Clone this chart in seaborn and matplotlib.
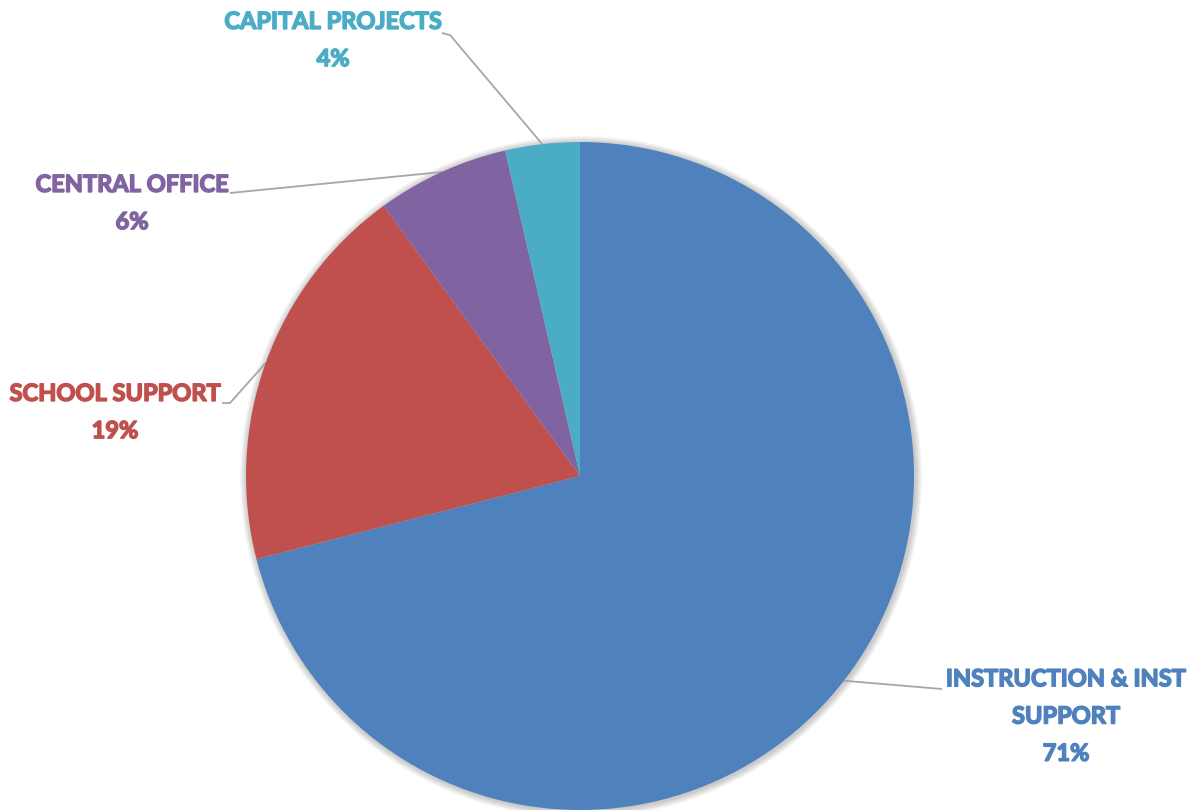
import numpy as np
import matplotlib
matplotlib.use('Agg')
import matplotlib.pyplot as plt
import matplotlib.patheffects as pe
import seaborn as sns

# data (clockwise from 12 o'clock)
categories = ['INSTRUCTION & INST\nSUPPORT', 'SCHOOL SUPPORT', 'CENTRAL OFFICE', 'CAPITAL PROJECTS']
shares = [71.0, 19.0, 6.4, 3.6]
colors = ['#4F81BD', '#C0504D', '#8064A2', '#4BACC6']

sns.set_theme(style='white')
plt.rcParams['font.family'] = ['Lato', 'DejaVu Sans']

W, H = 1190, 810
fig = plt.figure(figsize=(W / 100, H / 100), dpi=100)
ax = fig.add_axes([0, 0, 1, 1])

cx, cy, r = 580, H - 476, 334

# soft shadow around the pie
for k in range(1, 8):
    ax.add_patch(plt.Circle((cx + 1, cy - 1), r + k, color='black', alpha=0.03, lw=0, zorder=0))

wedges, _ = ax.pie(shares, colors=colors, startangle=90, counterclock=False,
                   center=(cx, cy), radius=r, wedgeprops=dict(linewidth=0))
for w in wedges:
    w.set_zorder(2)

# label anchors (x, y from top) and leader elbows
label_pos = [(1066, 716), (115, 412), (132, 203), (333, 40)]
leader_end = [[(942, 689)], [(230, 403), (222, 403)], [(230, 193)], [(450, 35), (442, 33)]]

for w, name, share, col, (lx, ly), pts in zip(wedges, categories, shares, colors, label_pos, leader_end):
    mid = np.deg2rad((w.theta1 + w.theta2) / 2)
    sx, sy = cx + r * np.cos(mid), cy + r * np.sin(mid)
    xs = [sx] + [p[0] for p in pts]
    ys = [sy] + [H - p[1] for p in pts]
    ax.plot(xs, ys, color='#A6A6A6', lw=1.3, zorder=1, solid_capstyle='butt')
    ax.text(lx, H - ly, f'{name}\n{share:.0f}%', ha='center', va='center',
            fontsize=17, fontweight='bold', color=col, linespacing=1.75, zorder=3,
            path_effects=[pe.withStroke(linewidth=1.1, foreground=col)])

ax.set_xlim(0, W)
ax.set_ylim(0, H)
ax.set_aspect('equal')
ax.axis('off')

fig.savefig('out.png', dpi=100, facecolor='white')
